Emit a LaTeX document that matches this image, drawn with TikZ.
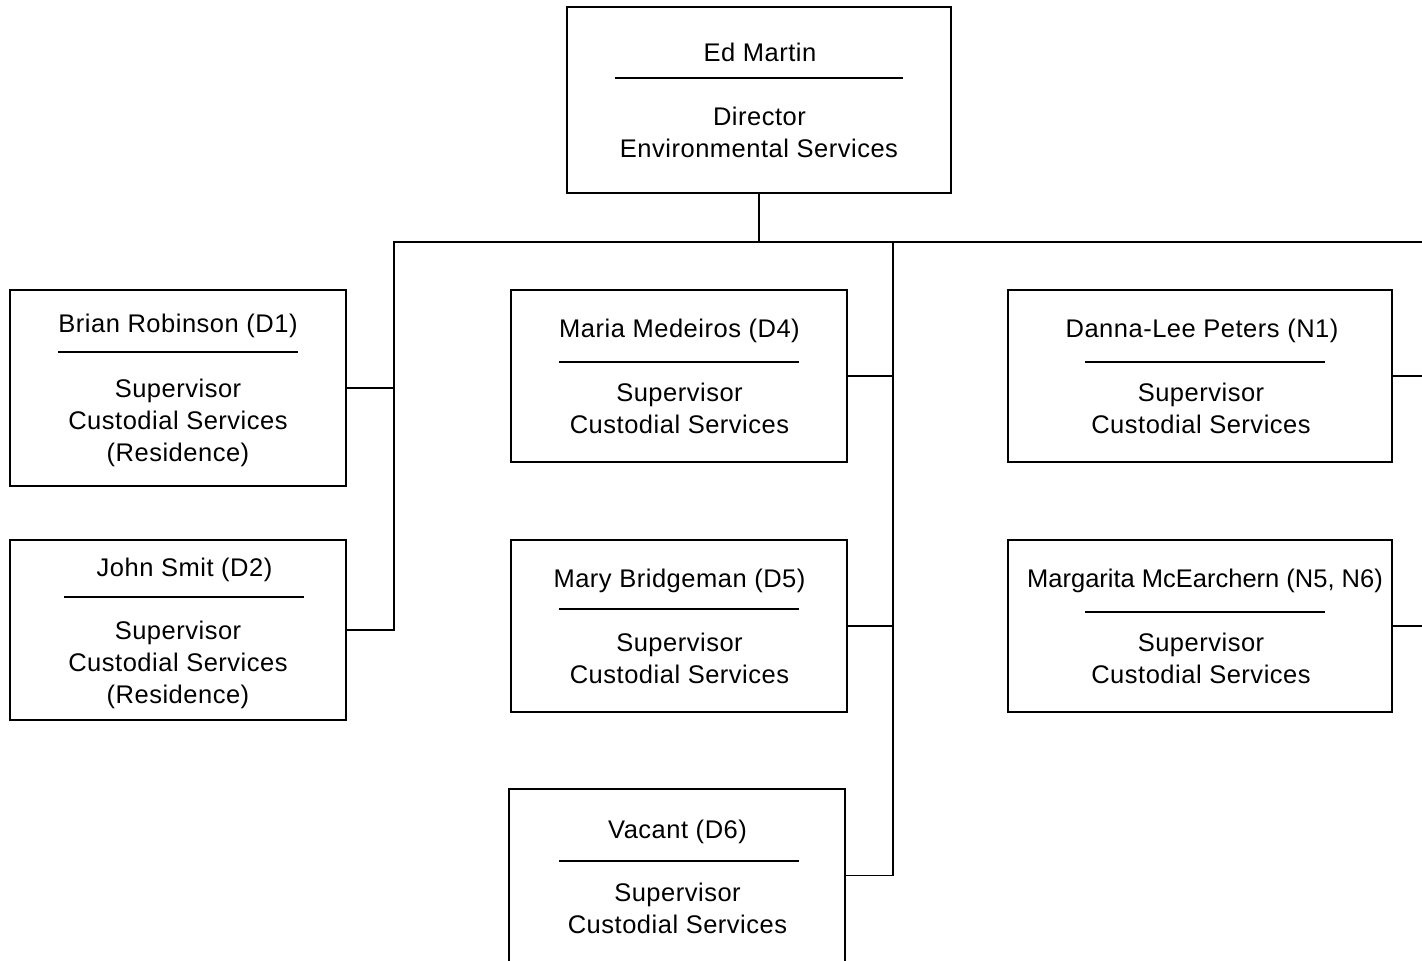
\documentclass[tikz,border=0pt]{standalone}
\usepackage{fontspec}
\setmainfont{Liberation Sans}[LetterSpace=2]
\newfontfamily\tightfont{Liberation Sans}
\begin{document}
\begin{tikzpicture}[x=1pt,y=-1pt,
  box/.style={draw=black, line width=1.5pt, inner sep=0pt, outer sep=0pt, fill=white},
  txt/.style={anchor=base, inner sep=0pt, outer sep=0pt, font=\fontsize{25.5}{32}\selectfont},
  sep/.style={line width=1.5pt},
  conn/.style={line width=1.5pt, line join=miter}]
\clip (0,0) rectangle (1422,961);
\fill[white] (0,0) rectangle (1422,961);
% boxes
\node[box, minimum width=384, minimum height=186] (ed) at (759,100) {};
\node[box, minimum width=336, minimum height=196] (brian) at (178,388) {};
\node[box, minimum width=336, minimum height=180] (john) at (178,630) {};
\node[box, minimum width=336, minimum height=172] (maria) at (679,376) {};
\node[box, minimum width=336, minimum height=172] (mary) at (679,626) {};
\node[box, minimum width=336, minimum height=173] (vacant) at (677,875.5) {};
\node[box, minimum width=384, minimum height=172] (danna) at (1200,376) {};
\node[box, minimum width=384, minimum height=172] (marg) at (1200,626) {};
% texts
\node[txt] (ed-n) at (760,61) {Ed Martin};
\node[txt] (ed-t1) at (759.5,125) {Director};
\node[txt] (ed-t2) at (759,157) {Environmental Services};
\draw[sep] (615,78) -- (903,78);

\node[txt] (brian-n) at (178,332) {Brian Robinson (D1)};
\node[txt] (brian-t1) at (178,397) {Supervisor};
\node[txt] (brian-t2) at (178,429) {Custodial Services};
\node[txt] (brian-t3) at (178,461) {(Residence)};
\draw[sep] (58,352) -- (298,352);

\node[txt] (john-n) at (184.5,576) {John Smit (D2)};
\node[txt] (john-t1) at (178,639) {Supervisor};
\node[txt] (john-t2) at (178,671) {Custodial Services};
\node[txt] (john-t3) at (178,703) {(Residence)};
\draw[sep] (64,597) -- (304,597);

\node[txt] (maria-n) at (679.5,337) {Maria Medeiros (D4)};
\node[txt] (maria-t1) at (679.5,401) {Supervisor};
\node[txt] (maria-t2) at (679.5,433) {Custodial Services};
\draw[sep] (559,362) -- (799,362);

\node[txt] (mary-n) at (679.5,587) {Mary Bridgeman (D5)};
\node[txt] (mary-t1) at (679.5,651) {Supervisor};
\node[txt] (mary-t2) at (679.5,683) {Custodial Services};
\draw[sep] (559,609) -- (799,609);

\node[txt] (vacant-n) at (677.5,838) {Vacant (D6)};
\node[txt] (vacant-t1) at (677.5,901) {Supervisor};
\node[txt] (vacant-t2) at (677.5,933) {Custodial Services};
\draw[sep] (559,861) -- (799,861);

\node[txt] (danna-n) at (1202,337) {Danna-Lee Peters (N1)};
\node[txt] (danna-t1) at (1201,401) {Supervisor};
\node[txt] (danna-t2) at (1201,433) {Custodial Services};
\draw[sep] (1085,362) -- (1325,362);

\node[txt, font=\tightfont\fontsize{25.5}{32}\selectfont] (marg-n) at (1205,587) {Margarita McEarchern (N5, N6)};
\node[txt] (marg-t1) at (1201,651) {Supervisor};
\node[txt] (marg-t2) at (1201,683) {Custodial Services};
\draw[sep] (1085,612) -- (1325,612);

% connectors
\coordinate (busL) at (394,242);
\coordinate (busM) at (893,242);
\coordinate (busR) at (1432,242);
\draw[conn] (ed.south) -- (ed.south |- busL);
\draw[conn] (john.east) -- (john.east -| busL) -- (busL) -- (busR);
\draw[conn] (brian.east) -- (brian.east -| busL);
\draw[conn] (busM) -- (busM |- vacant.east) -- (vacant.east);
\draw[conn] (maria.east) -- (maria.east -| busM);
\draw[conn] (mary.east) -- (mary.east -| busM);
\draw[conn] (danna.east) -- (danna.east -| busR);
\draw[conn] (marg.east) -- (marg.east -| busR);
\end{tikzpicture}
\end{document}
